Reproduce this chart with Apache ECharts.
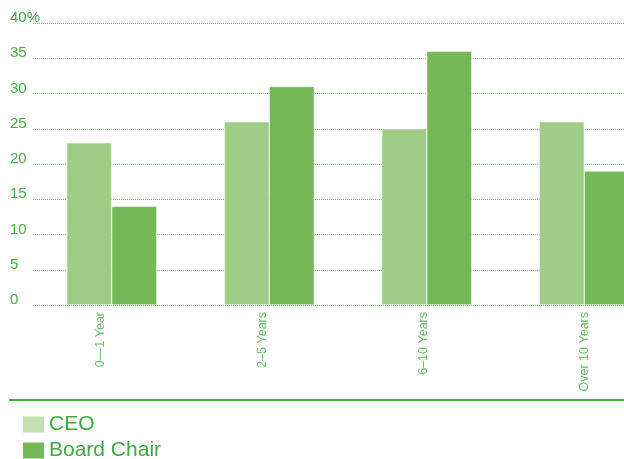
<!DOCTYPE html>
<html>
<head>
<meta charset="utf-8">
<script src="https://cdn.jsdelivr.net/npm/echarts@6/dist/echarts.min.js"></script>
<style>
  html, body { margin: 0; padding: 0; background: #fff; overflow: hidden; }
  /* the last bar runs off the right edge in the original, so the chart is wider than the page */
  #chart { width: 663px; height: 459px; }
</style>
</head>
<body>
<div id="chart"></div>
<script>
var categories = ['0—1 Year', '2–5 Years', '6–10 Years', 'Over 10 Years'];
var ceoValues = [23, 26, 25, 26];
var chairValues = [14, 31, 36, 19];
var yTicks = [0, 5, 10, 15, 20, 25, 30, 35, 40];

var chart = echarts.init(document.getElementById('chart'));

// labels in the original drift a little left of the group centres
var labelShift = ['s0', 's1', 's2', 's3'];

var option = {
    animation: false,
    textStyle: { fontFamily: 'Liberation Sans, Arial, sans-serif' },
    grid: { left: 33, right: 0, top: 23, bottom: 154 },
    legend: {
        left: 21,
        top: 414,
        height: 50,
        padding: 0,
        orient: 'vertical',
        itemWidth: 23,
        itemHeight: 18,
        itemGap: 5,
        icon: 'rect',
        textStyle: { color: '#3daa3f', fontSize: 21, lineHeight: 18, padding: [0, 0, 0, -1] },
        data: [
            { name: 'CEO', itemStyle: { color: '#c4e0b1' } },
            { name: 'Board Chair', itemStyle: { color: '#74b857' } }
        ]
    },
    xAxis: {
        type: 'category',
        data: categories,
        axisLine: { show: false },
        axisTick: { show: false },
        axisLabel: {
            rotate: 90,
            margin: 7,
            color: '#66bd66',
            fontSize: 12.5,
            formatter: function (v, i) {
                return '{' + labelShift[i] + '|' + v + '}';
            },
            rich: {
                s0: { padding: [0, 0, 22, 0] },
                s1: { padding: [0, 0, 13, 0] },
                s2: { padding: [0, 0, 7, 0] },
                s3: { padding: [0, 0, 0, 0] }
            }
        }
    },
    yAxis: {
        type: 'value',
        min: 0,
        max: 40,
        interval: 5,
        axisLine: { show: false },
        axisTick: { show: false },
        axisLabel: {
            align: 'left',
            verticalAlign: 'bottom',
            lineHeight: 10,
            margin: 23,
            color: '#45ad45',
            fontSize: 15,
            formatter: function (v) {
                return yTicks.indexOf(v) === yTicks.length - 1 ? v + '%' : String(v);
            }
        },
        splitLine: {
            lineStyle: { color: '#6cc46c', type: 'dotted', width: 1 }
        }
    },
    graphic: [{
        type: 'line',
        shape: { x1: 9, y1: 400, x2: 624, y2: 400 },
        style: { stroke: '#45ad45', lineWidth: 2 }
    }],
    series: [
        {
            name: 'CEO',
            type: 'bar',
            barWidth: 45,
            barGap: '0%',
            itemStyle: { color: '#a0cd85', borderColor: '#ffffff', borderWidth: 0.5 },
            data: ceoValues
        },
        {
            name: 'Board Chair',
            type: 'bar',
            barWidth: 45,
            itemStyle: { color: '#74b857', borderColor: '#ffffff', borderWidth: 0.5 },
            data: chairValues
        }
    ]
};
chart.setOption(option);
</script>
</body>
</html>
